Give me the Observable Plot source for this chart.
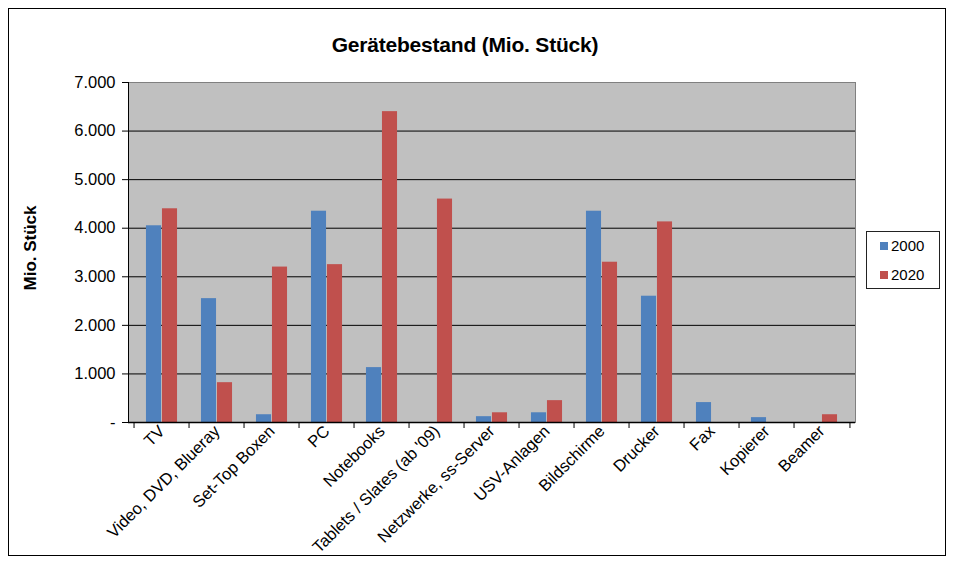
<!DOCTYPE html>
<html>
<head>
<meta charset="utf-8">
<script src="https://cdn.jsdelivr.net/npm/d3@7"></script>
<script src="https://cdn.jsdelivr.net/npm/@observablehq/plot@0.6"></script>
<style>
  html, body { margin: 0; padding: 0; background: #fff; }
  #wrap { position: relative; width: 955px; height: 564px; font-family: "Liberation Sans", Arial, sans-serif; }
  #border { position: absolute; left: 8px; top: 8px; width: 938px; height: 548px; border: 1px solid #000; box-sizing: border-box; }
  #title { position: absolute; left: 0; width: 930px; top: 33px; text-align: center; font-weight: bold; font-size: 21px; letter-spacing: -0.2px; }
  #ylabel { position: absolute; left: 31px; top: 248px; transform: translate(-50%, -50%) rotate(-90deg); font-weight: bold; font-size: 17px; white-space: nowrap; }
  #legend { position: absolute; left: 866px; top: 231px; width: 74px; height: 58px; border: 1px solid #222; box-sizing: border-box; font-size: 15px; }
  #legend .item { position: absolute; left: 13px; display: flex; align-items: center; }
  #legend .sw { width: 8px; height: 8px; margin-right: 3px; }
  #chart { position: absolute; left: 0; top: 0; }
</style>
</head>
<body>
<div id="wrap">
  <div id="border"></div>
  <div id="chart"></div>
  <div id="title">Gerätebestand (Mio. Stück)</div>
  <div id="ylabel">Mio. Stück</div>
  <div id="legend"></div>
</div>
<script>
const categories = ["TV", "Video, DVD, Blueray", "Set-Top Boxen", "PC", "Notebooks", "Tablets / Slates (ab '09)", "Netzwerke, ss-Server", "USV-Anlagen", "Bildschirme", "Drucker", "Fax", "Kopierer", "Beamer"];
const values2000 = [4050, 2550, 160, 4350, 1130, 0, 120, 200, 4350, 2600, 410, 100, 0];
const values2020 = [4400, 820, 3200, 3250, 6400, 4600, 200, 450, 3300, 4130, 0, 0, 160];
const years = ["2000", "2020"];
const yTicks = [0, 1000, 2000, 3000, 4000, 5000, 6000, 7000];
const colors = ["#4F81BD", "#C0504D"];

const W = 955, H = 564, mL = 128, mR = 100, mT = 82, mB = 142;
const bw = (W - mL - mR) / categories.length;
const barW = 16;

const data2000 = categories.map((c, i) => ({cat: c, v: values2000[i]})).filter(d => d.v > 0);
const data2020 = categories.map((c, i) => ({cat: c, v: values2020[i]})).filter(d => d.v > 0);

const fmt = d => d === 0 ? "-" : d3.format(",")(d).replace(/,/g, ".");

const chart = Plot.plot({
  width: W, height: H,
  marginLeft: mL, marginRight: mR, marginTop: mT, marginBottom: mB,
  style: {fontFamily: "'Liberation Sans', Arial, sans-serif", background: "transparent", color: "#000"},
  x: {domain: categories, padding: 0, axis: null},
  y: {domain: [0, 7000], axis: null},
  marks: [
    Plot.frame({fill: "#C0C0C0"}),
    Plot.gridY(yTicks.slice(1), {stroke: "#000", strokeOpacity: 1}),
    Plot.barY(data2000, {x: "cat", y: "v", fill: colors[0], insetLeft: bw / 2 - barW, insetRight: bw / 2}),
    Plot.barY(data2020, {x: "cat", y: "v", fill: colors[1], insetLeft: bw / 2, insetRight: bw / 2 - barW}),
    Plot.frame({stroke: "#808080"}),
    Plot.frame({anchor: "left", stroke: "#000"}),
    Plot.ruleY([0], {stroke: "#000", strokeWidth: 1.5}),
    Plot.axisY(yTicks, {tickFormat: fmt, tickSize: 6, tickPadding: 7, fontSize: 16.5, label: null}),
    Plot.axisX({tickRotate: -45, tickSize: 0, tickPadding: 6, fontSize: 16.5, label: null}),
    Plot.axisX({tickFormat: () => "", tickSize: 6, dx: -bw / 2, label: null}),
    Plot.axisX([categories[categories.length - 1]], {tickFormat: () => "", tickSize: 6, dx: bw / 2, label: null})
  ]
});
document.getElementById("chart").appendChild(chart);

const legend = document.getElementById("legend");
years.forEach((y, i) => {
  const item = document.createElement("div");
  item.className = "item";
  item.style.top = (i === 0 ? 5 : 34) + "px";
  item.innerHTML = `<span class="sw" style="background:${colors[i]}"></span><span>${y}</span>`;
  legend.appendChild(item);
});
</script>
</body>
</html>
